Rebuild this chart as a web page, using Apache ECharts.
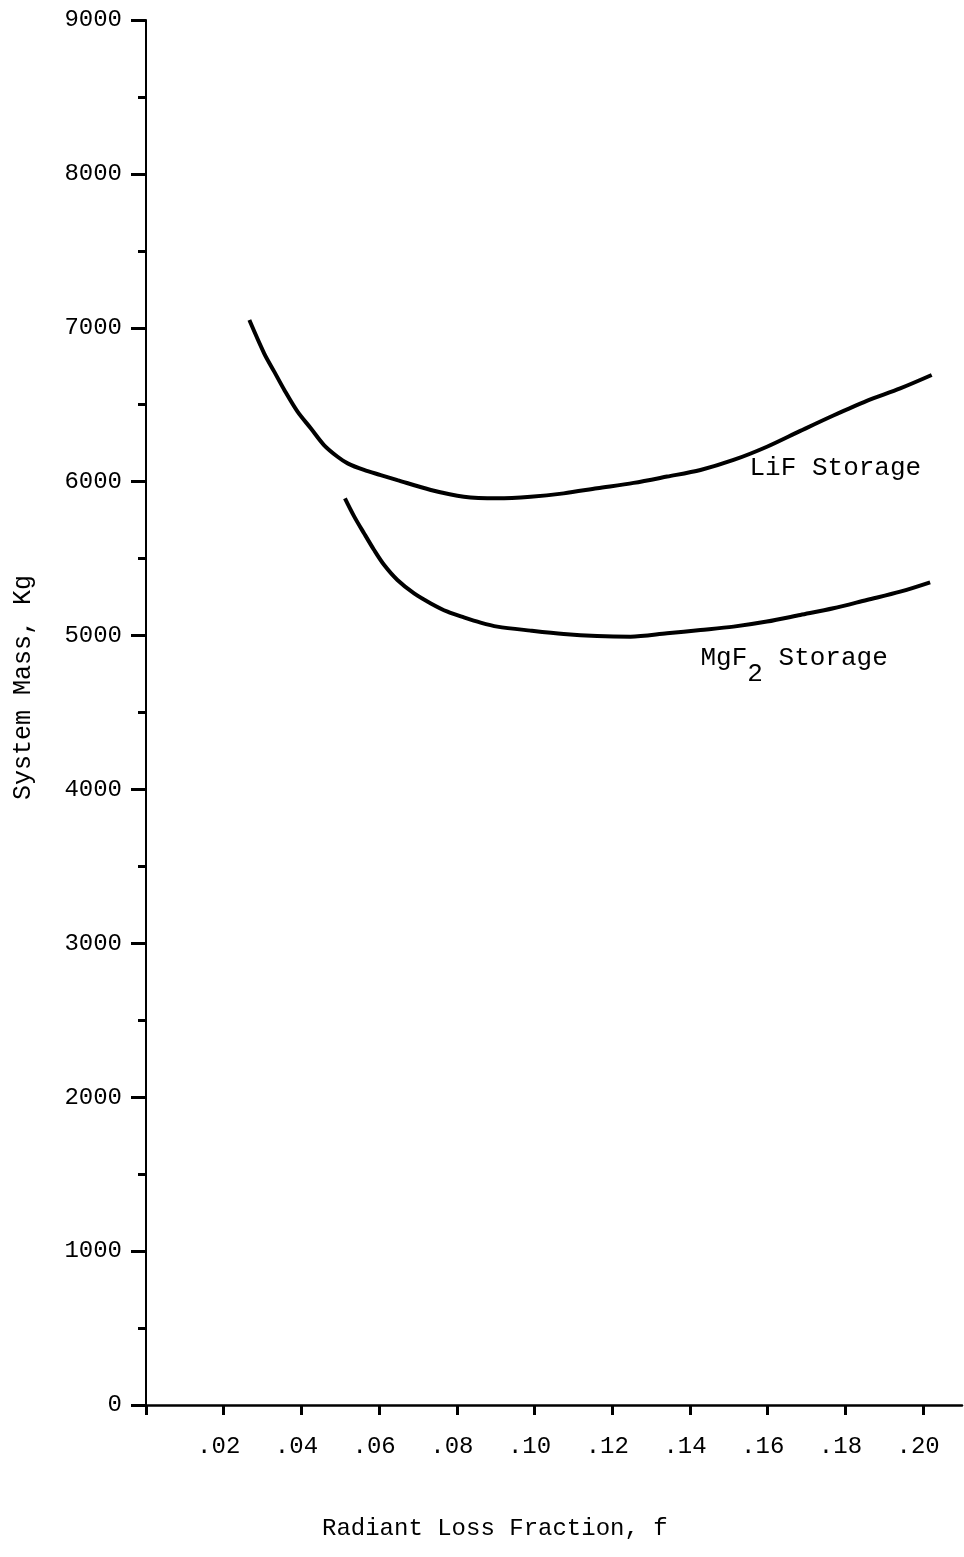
<!DOCTYPE html>
<html>
<head>
<meta charset="utf-8">
<script src="https://cdn.jsdelivr.net/npm/echarts@6/dist/echarts.min.js"></script>
<style>
  html, body { margin: 0; padding: 0; background: #fff; }
  #chart { width: 964px; height: 1557px; }
</style>
</head>
<body>
<div id="chart"></div>
<script>
// radiant loss fraction f vs system mass (kg)
const lifF = [0.0266, 0.0304, 0.0330, 0.0356, 0.0390, 0.0424, 0.0458, 0.0493, 0.0519, 0.0561, 0.0604, 0.0647,
  0.0733, 0.0818, 0.0904, 0.0990, 0.1075, 0.1161, 0.1255, 0.1341, 0.1427, 0.1512, 0.1598, 0.1684, 0.1769,
  0.1855, 0.1941, 0.2022]
const lifMass = [7050, 6834, 6715, 6596, 6455, 6347, 6238, 6162, 6119, 6076, 6043, 6010,
  5946, 5902, 5892, 5902, 5924, 5957, 5992, 6033, 6076, 6141, 6227, 6330, 6430,
  6525, 6606, 6693]

const mgfF = [0.0512, 0.0536, 0.0561, 0.0587, 0.0613, 0.0647, 0.0690, 0.0733, 0.0776, 0.0818, 0.0861, 0.0904,
  0.0990, 0.1075, 0.1161, 0.1247, 0.1341, 0.1427, 0.1512, 0.1598, 0.1684, 0.1769, 0.1855, 0.1941, 0.2018]
const mgfMass = [5892, 5773, 5665, 5556, 5458, 5361, 5274, 5209, 5155, 5118, 5084, 5058,
  5032, 5010, 4997, 4993, 5015, 5036, 5058, 5091, 5134, 5177, 5231, 5285, 5346]

const xTicks = [0, 0.02, 0.04, 0.06, 0.08, 0.10, 0.12, 0.14, 0.16, 0.18, 0.20]
const xLabels = [0.02, 0.04, 0.06, 0.08, 0.10, 0.12, 0.14, 0.16, 0.18, 0.20]

const FONT = '"Liberation Mono", "DejaVu Sans Mono", monospace'
const INK = '#000'

const zip = (xs, ys) => xs.map((x, i) => [x, ys[i]])

const chart = echarts.init(document.getElementById('chart'))

chart.setOption({
  animation: false,
  backgroundColor: '#fff',
  grid: { left: 146, right: 2, top: 20, bottom: 152 },
  xAxis: {
    type: 'value',
    min: 0,
    max: 0.21,
    splitLine: { show: false },
    axisLine: { onZero: false, lineStyle: { color: INK, width: 2.5 } },
    axisTick: { customValues: xTicks, length: 10, lineStyle: { color: INK, width: 3 } },
    axisLabel: {
      customValues: xLabels,
      margin: 30,
      color: INK,
      fontFamily: FONT,
      fontSize: 24,
      padding: [0, 10, 0, 0],
      formatter: (v) => v.toFixed(2).replace(/^0/, ''),
    },
  },
  yAxis: {
    type: 'value',
    min: 0,
    max: 9000,
    interval: 1000,
    splitLine: { show: false },
    axisLine: { onZero: false, lineStyle: { color: INK, width: 2 } },
    axisTick: { length: 15, lineStyle: { color: INK, width: 3 } },
    minorTick: { show: true, splitNumber: 2, length: 8, lineStyle: { color: INK, width: 3 } },
    axisLabel: { margin: 24, color: INK, fontFamily: FONT, fontSize: 24, formatter: (v) => String(v) },
  },
  graphic: [
    {
      type: 'text',
      left: 11,
      top: 575,
      rotation: Math.PI / 2,
      originX: 0,
      originY: 0,
      style: { text: 'System Mass, Kg', font: '25px ' + FONT, fill: INK },
    },
    {
      type: 'text',
      left: 322,
      top: 1517,
      style: { text: 'Radiant Loss Fraction, f', font: '24px ' + FONT, fill: INK },
    },
  ],
  series: [
    {
      name: 'LiF Storage',
      type: 'line',
      smooth: 0.3,
      showSymbol: false,
      lineStyle: { color: INK, width: 4 },
      data: zip(lifF, lifMass),
      markPoint: {
        symbol: 'circle',
        symbolSize: 1,
        itemStyle: { color: 'rgba(0,0,0,0)' },
        data: [{ coord: [0.1774, 6089] }],
        label: {
          show: true,
          position: 'inside',
          formatter: 'LiF Storage',
          color: INK,
          fontFamily: FONT,
          fontSize: 26,
        },
      },
    },
    {
      name: 'MgF2 Storage',
      type: 'line',
      smooth: 0.3,
      showSymbol: false,
      lineStyle: { color: INK, width: 4 },
      data: zip(mgfF, mgfMass),
      markPoint: {
        symbol: 'circle',
        symbolSize: 1,
        itemStyle: { color: 'rgba(0,0,0,0)' },
        data: [{ coord: [0.1668, 4850] }],
        label: {
          show: true,
          position: 'inside',
          formatter: '{a|MgF}{s|2}{a| Storage}',
          rich: {
            a: { color: INK, fontFamily: FONT, fontSize: 26, verticalAlign: 'top', lineHeight: 28 },
            s: { color: INK, fontFamily: FONT, fontSize: 26, verticalAlign: 'top', lineHeight: 28, padding: [16, 0, 0, 0] },
          },
        },
      },
    },
  ],
})
</script>
</body>
</html>
